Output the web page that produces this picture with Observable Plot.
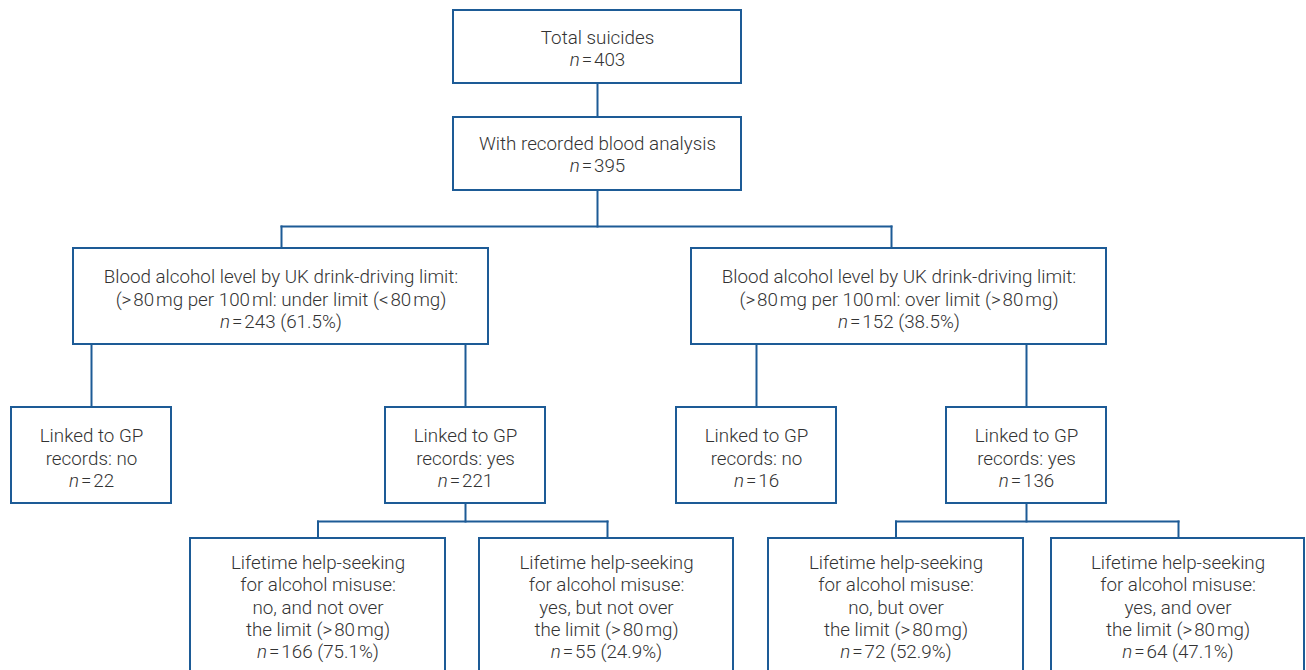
<!DOCTYPE html>
<html><head><meta charset="utf-8">
<script src="https://cdn.jsdelivr.net/npm/d3@7"></script>
<script src="https://cdn.jsdelivr.net/npm/@observablehq/plot@0.6"></script>
<style>body{margin:0;background:#fff;overflow:hidden}</style>
</head><body><div id="chart"></div>
<script>
// ---- data ----
const nodeIds = ["total","blood","under","over","underNo","underYes","overNo","overYes","uyNo","uyYes","oyNo","oyYes"];
const nodeParents = [null,"total","blood","blood","under","under","over","over","underYes","underYes","overYes","overYes"];
const nodeLabels = [
  ["Total suicides"],
  ["With recorded blood analysis"],
  ["Blood alcohol level by UK drink-driving limit:", "(>\u200A80\u200Amg per 100\u200Aml: under limit (<\u200A80\u200Amg)"],
  ["Blood alcohol level by UK drink-driving limit:", "(>\u200A80\u200Amg per 100\u200Aml: over limit (>\u200A80\u200Amg)"],
  ["Linked to GP", "records: no"],
  ["Linked to GP", "records: yes"],
  ["Linked to GP", "records: no"],
  ["Linked to GP", "records: yes"],
  ["Lifetime help-seeking", "for alcohol misuse:", "no, and not over", "the limit (>\u200A80\u200Amg)"],
  ["Lifetime help-seeking", "for alcohol misuse:", "yes, but not over", "the limit (>\u200A80\u200Amg)"],
  ["Lifetime help-seeking", "for alcohol misuse:", "no, but over", "the limit (>\u200A80\u200Amg)"],
  ["Lifetime help-seeking", "for alcohol misuse:", "yes, and over", "the limit (>\u200A80\u200Amg)"]
];
const nodeCounts = [403,395,243,152,22,221,16,136,166,55,72,64];
const nodePercents = [null,null,"61.5%","38.5%",null,null,null,null,"75.1%","24.9%","52.9%","47.1%"];

// ---- layout (box x1, x2, y1, y2, stem x, text centre y) ----
const layout = {
  total:    [453, 741, 10, 83, 597, 47],
  blood:    [453, 741, 117, 190, 597, 153],
  under:    [73, 488, 248, 344, 281, 298],
  over:     [691, 1106, 248, 344, 891, 298],
  underNo:  [11, 171, 407, 503, 91, 457],
  underYes: [385, 545, 407, 503, 465, 457],
  overNo:   [676, 836, 407, 503, 756, 457],
  overYes:  [946, 1106, 407, 503, 1026, 457],
  uyNo:     [190, 445, 538, 720, 317.5, 606],
  uyYes:    [479, 733, 538, 720, 607, 606],
  oyNo:     [768, 1023, 538, 720, 895.5, 606],
  oyYes:    [1051, 1304, 538, 720, 1178, 606]
};
const busY = {blood: 226, underYes: 521, overYes: 521};
const BLUE = "#1d5b96";
const INK = "#333333";

const nodes = nodeIds.map((id, i) => {
  const [x1, x2, y1, y2, sx, ty] = layout[id];
  const nline = `n\u200A=\u200A${nodeCounts[i]}` + (nodePercents[i] ? ` (${nodePercents[i]})` : "");
  return {id, parent: nodeParents[i], x1, x2, y1, y2, sx, ty, cx: (x1 + x2) / 2,
          label: [...nodeLabels[i], nline].join("\n")};
});

const segs = [];
for (const p of nodes) {
  const kids = nodes.filter(d => d.parent === p.id);
  if (!kids.length) continue;
  if (busY[p.id] != null) {
    const b = busY[p.id];
    segs.push({x1: p.sx, y1: p.y2, x2: p.sx, y2: b});
    const xs = kids.map(k => k.sx);
    segs.push({x1: Math.min(...xs), y1: b, x2: Math.max(...xs), y2: b});
    for (const k of kids) segs.push({x1: k.sx, y1: b, x2: k.sx, y2: k.y1});
  } else {
    for (const k of kids) segs.push({x1: k.sx, y1: p.y2, x2: k.sx, y2: k.y1});
  }
}

const plot = Plot.plot({
  width: 1306, height: 670,
  margin: 0,
  x: {domain: [0, 1306], range: [0, 1306], axis: null},
  y: {domain: [0, 670], range: [0, 670], axis: null},
  style: {fontFamily: "Roboto, sans-serif", background: "#fff", overflow: "hidden"},
  marks: [
    Plot.link(segs, {x1: "x1", y1: "y1", x2: "x2", y2: "y2", stroke: BLUE, strokeWidth: 2, strokeLinecap: "square"}),
    Plot.rect(nodes, {x1: "x1", x2: "x2", y1: "y1", y2: "y2", fill: "#fff", stroke: BLUE, strokeWidth: 2, clip: true}),
    Plot.text(nodes, {x: "cx", y: "ty", text: "label", fontSize: 18.8, fontWeight: 300, lineHeight: 1.18, fill: INK, lineAnchor: "middle", textAnchor: "middle"})
  ]
});

// italicise the statistical "n"
d3.select(plot).selectAll("tspan").each(function() {
  const t = this.textContent;
  if (t.startsWith("n\u200A=")) {
    this.textContent = "";
    d3.select(this).append("tspan").attr("font-style", "italic").text("n");
    this.appendChild(document.createTextNode(t.slice(1)));
  }
});
document.getElementById("chart").appendChild(plot);
</script>
</body></html>
